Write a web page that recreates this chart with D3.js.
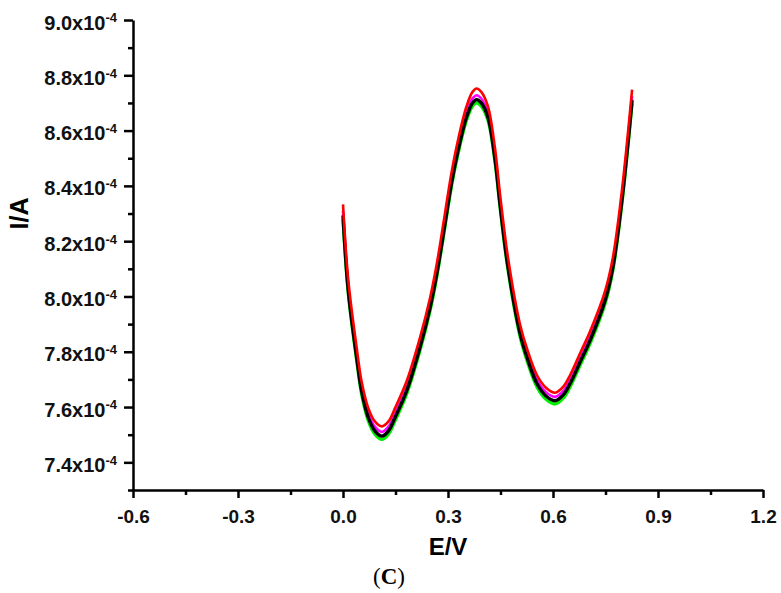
<!DOCTYPE html>
<html>
<head>
<meta charset="utf-8">
<script src="https://cdn.jsdelivr.net/npm/d3@7"></script>
<style>
  body { margin: 0; background: #fff; }
  svg { display: block; }
</style>
</head>
<body>
<script>
// potential (V)
var potential = [0.000, 0.015, 0.039, 0.053, 0.072, 0.091, 0.111, 0.130, 0.149, 0.182,
  0.220, 0.249, 0.268, 0.291, 0.310, 0.329, 0.353, 0.370, 0.382, 0.395,
  0.414, 0.434, 0.449, 0.471, 0.506, 0.526, 0.554, 0.580, 0.606, 0.630,
  0.649, 0.680, 0.706, 0.749, 0.771, 0.797, 0.826];

// currents, in units of 1e-4 A
var currentGreen = [8.280, 8.010, 7.768, 7.647, 7.551, 7.502, 7.483, 7.502, 7.551, 7.647,
  7.804, 7.949, 8.070, 8.248, 8.398, 8.517, 8.637, 8.688, 8.700, 8.688,
  8.637, 8.488, 8.318, 8.098, 7.854, 7.767, 7.673, 7.628, 7.611, 7.633,
  7.673, 7.758, 7.829, 7.974, 8.093, 8.336, 8.698];
var currentMagenta = [8.310, 8.038, 7.795, 7.674, 7.578, 7.529, 7.510, 7.529, 7.578, 7.674,
  7.831, 7.976, 8.097, 8.276, 8.426, 8.545, 8.665, 8.716, 8.728, 8.716,
  8.665, 8.515, 8.345, 8.125, 7.880, 7.793, 7.700, 7.654, 7.637, 7.659,
  7.700, 7.785, 7.856, 8.001, 8.120, 8.363, 8.725];
var currentBlack = [8.293, 8.022, 7.780, 7.659, 7.563, 7.514, 7.495, 7.514, 7.563, 7.659,
  7.816, 7.961, 8.082, 8.260, 8.410, 8.529, 8.649, 8.700, 8.712, 8.700,
  8.649, 8.500, 8.330, 8.110, 7.866, 7.779, 7.685, 7.640, 7.623, 7.645,
  7.685, 7.770, 7.841, 7.986, 8.105, 8.348, 8.710];
var currentRed = [8.333, 8.060, 7.815, 7.693, 7.597, 7.548, 7.530, 7.548, 7.597, 7.694,
  7.851, 7.996, 8.118, 8.298, 8.448, 8.568, 8.688, 8.740, 8.752, 8.740,
  8.688, 8.538, 8.366, 8.144, 7.898, 7.810, 7.716, 7.670, 7.652, 7.675,
  7.716, 7.802, 7.874, 8.020, 8.140, 8.384, 8.748];

// tick labels
var xTicks = [-0.6, -0.3, 0.0, 0.3, 0.6, 0.9, 1.2];
var xMinorTicks = [-0.45, -0.15, 0.15, 0.45, 0.75, 1.05];
var yTicks = [7.4, 7.6, 7.8, 8.0, 8.2, 8.4, 8.6, 8.8, 9.0];
var yMinorTicks = [7.3, 7.5, 7.7, 7.9, 8.1, 8.3, 8.5, 8.7, 8.9];

var series = [
  {name: "green", color: "#00ee00", width: 3.2, values: currentGreen},
  {name: "magenta", color: "#ff00ff", width: 2.6, values: currentMagenta},
  {name: "black", color: "#000000", width: 3.4, values: currentBlack},
  {name: "red", color: "#ff0000", width: 2.6, values: currentRed}
];

// margin
var W = 781, H = 593;
var margin = {top: 20, right: 18, bottom: 103, left: 133},
    width = W - margin.left - margin.right,
    height = H - margin.top - margin.bottom;

var svg = d3.select("body").append("svg")
    .attr("width", W)
    .attr("height", H);

var g = svg.append("g")
    .attr("transform", "translate(" + margin.left + "," + margin.top + ")");

var x = d3.scaleLinear().domain([-0.6, 1.2]).range([0, width]);
var y = d3.scaleLinear().domain([7.3, 9.0]).range([height, 0]);

// hyphen instead of unicode minus, like the original
var fmt = function(d) { return d3.format(".1f")(d).replace("\u2212", "-"); };

// curves
var line = d3.line()
    .x(function(d, i) { return x(potential[i]); })
    .y(function(d) { return y(d); })
    .curve(d3.curveCatmullRom.alpha(0.5));

g.selectAll(".curve")
    .data(series)
  .enter().append("path")
    .attr("class", "curve")
    .attr("fill", "none")
    .attr("stroke", function(d) { return d.color; })
    .attr("stroke-width", function(d) { return d.width; })
    .attr("stroke-linejoin", "round")
    .attr("d", function(d) { return line(d.values); });

var font = "'Liberation Sans', Arial, sans-serif";

// minor ticks first, then major axes on top
g.append("g")
    .attr("transform", "translate(0," + height + ")")
    .call(d3.axisBottom(x).tickValues(xMinorTicks).tickSize(5).tickFormat(""))
    .call(function(a) { a.select(".domain").remove(); })
    .selectAll("line").attr("stroke-width", 2.5);

g.append("g")
    .call(d3.axisLeft(y).tickValues(yMinorTicks).tickSize(5).tickFormat(""))
    .call(function(a) { a.select(".domain").remove(); })
    .selectAll("line").attr("stroke-width", 2.5);

var xAxis = g.append("g")
    .attr("transform", "translate(0," + height + ")")
    .call(d3.axisBottom(x).tickValues(xTicks).tickSize(8).tickSizeOuter(0).tickPadding(12)
      .tickFormat(fmt));

xAxis.select(".domain").attr("stroke-width", 2.5);
xAxis.selectAll("line").attr("stroke-width", 2.5);
xAxis.selectAll("text")
    .style("font-family", font)
    .style("font-size", "19px")
    .style("font-weight", "bold")
    .attr("fill", "#111");

var yAxis = g.append("g")
    .call(d3.axisLeft(y).tickValues(yTicks).tickSize(9).tickSizeOuter(0).tickPadding(7));

yAxis.select(".domain").attr("stroke-width", 2.5);
yAxis.selectAll("line").attr("stroke-width", 2.5);
yAxis.selectAll("text")
    .style("font-family", font)
    .style("font-size", "20px")
    .style("font-weight", "bold")
    .attr("fill", "#111")
    .attr("dy", "0.45em")
    .text(null)
    .each(function(d) {
      var t = d3.select(this);
      t.append("tspan").text(fmt(d) + "x10");
      t.append("tspan").attr("dy", "-0.55em").style("font-size", "13px").text("-4");
    });

// axis titles
svg.append("text")
    .attr("transform", "translate(28," + (margin.top + y(8.3)) + ") rotate(-90)")
    .attr("text-anchor", "middle")
    .style("font-family", font)
    .style("font-size", "25px")
    .style("font-weight", "bold")
    .text("I/A");

svg.append("text")
    .attr("x", margin.left + x(0.3))
    .attr("y", 555)
    .attr("text-anchor", "middle")
    .style("font-family", font)
    .style("font-size", "24px")
    .style("font-weight", "bold")
    .text("E/V");

var cap = svg.append("text")
    .attr("x", 389)
    .attr("y", 584)
    .attr("text-anchor", "middle")
    .style("font-family", "'Liberation Serif', 'Times New Roman', serif")
    .style("font-size", "23px");
cap.append("tspan").text("(");
cap.append("tspan").style("font-weight", "bold").text("C");
cap.append("tspan").text(")");
</script>
</body>
</html>
